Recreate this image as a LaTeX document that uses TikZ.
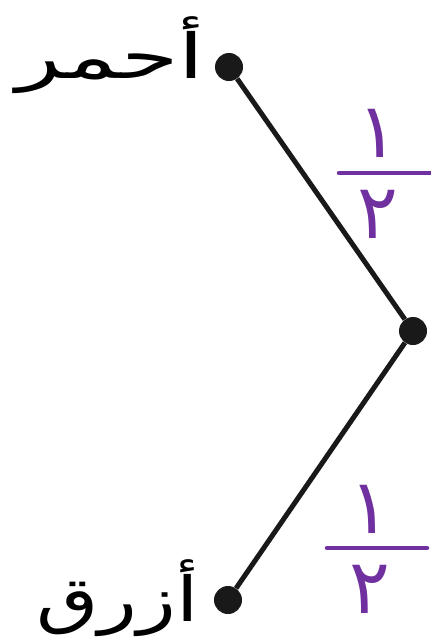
\documentclass[tikz,border=0pt]{standalone}
\usepackage{fontspec}
\newfontfamily\arabicfont[Script=Arabic]{DejaVu Sans}
\newfontfamily\arabicwide[Script=Arabic,FakeStretch=1.5]{DejaVu Sans}
\newfontfamily\arabicmid[Script=Arabic,FakeStretch=1.3]{DejaVu Sans}
\TeXXeTstate=1
\definecolor{fracpurple}{RGB}{112,48,160}

\begin{document}
\begin{tikzpicture}[x=1pt,y=-1pt]
	\tikzstyle{every node}+=[inner sep=0pt]
	\tikzstyle{dot}=[circle,fill=black!90,minimum size=28pt]
	\tikzstyle{word}=[font=\arabicwide\fontsize{62}{64}\selectfont,anchor=base east]
	\tikzstyle{digit}=[font=\arabicfont\fontsize{76}{78}\selectfont,text=fracpurple]
	\tikzstyle{bar}=[draw=fracpurple,line width=4.5pt,line cap=round]
	\useasboundingbox (0,0) rectangle (431,643);
	% points of the tree
	\node[dot] (ahmar) at (229,67) {};
	\node[dot] (mid) at (413,331) {};
	\node[dot] (azraq) at (228,600) {};
	\draw[line width=5pt,black!90] (ahmar) -- (mid) -- (azraq);
	% colour names
	\node[word] (ahmarlbl) at (205,78) {\beginR أحمر\endR};
	\node[word,font=\arabicmid\fontsize{62}{64}\selectfont] (azraqlbl) at (199,621) {\beginR أزرق\endR};
	% probabilities
	\node[digit] (topnum) at (378,133) {١};
	\node[digit] (topden) at (378,214) {٢};
	\coordinate (topbarl) at (339,173);
	\coordinate (topbarr) at (431,173);
	\draw[bar] (topbarl) -- (topbarr);
	\node[digit] (botnum) at (370,509) {١};
	\node[digit] (botden) at (370,589) {٢};
	\coordinate (botbarl) at (327,548);
	\coordinate (botbarr) at (427,548);
	\draw[bar] (botbarl) -- (botbarr);
\end{tikzpicture}
\end{document}
